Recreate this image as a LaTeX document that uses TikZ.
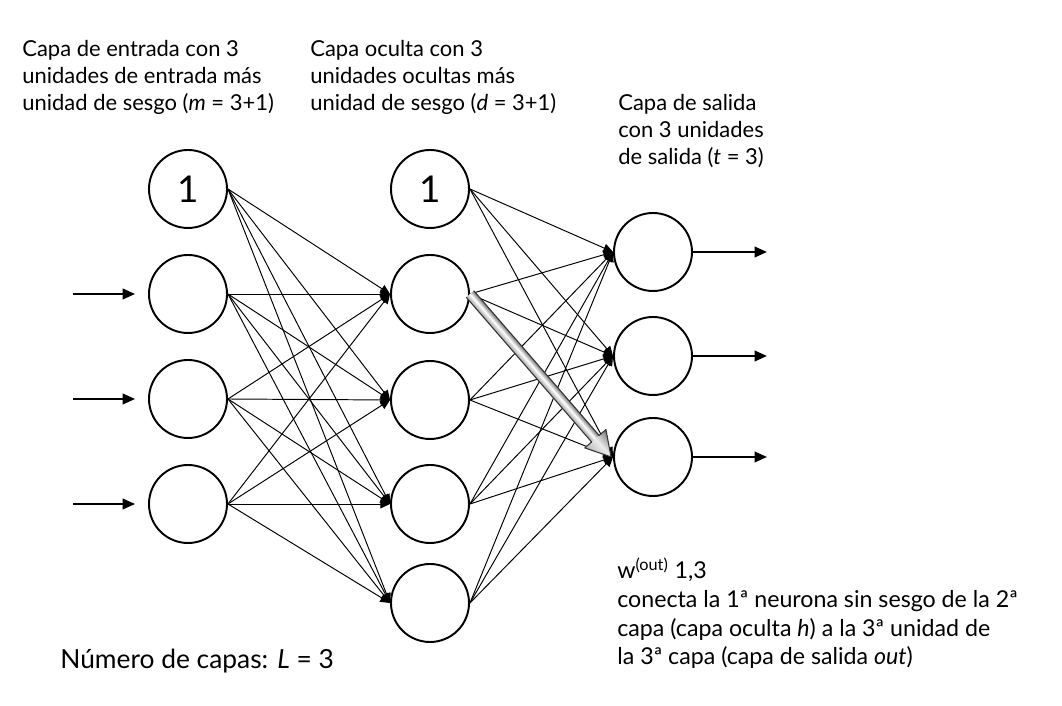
\documentclass[tikz,border=0pt]{standalone}
\usepackage{fontspec}
\setmainfont{Lato}
\usetikzlibrary{arrows.meta,calc}
\tikzstyle{neurona}=[circle, draw, line width=1.1pt, minimum size=1.56cm, inner sep=0pt, fill=white]
\tikzstyle{peso}=[line width=0.55pt, -{Triangle[length=5.5pt,width=5pt]}]
\tikzstyle{flecha}=[line width=1.1pt, -{Triangle[length=7pt,width=6pt]}]
\tikzstyle{texto}=[anchor=base west, inner sep=0pt, align=left, font=\fontsize{12.5}{15.6}\selectfont]
\tikzstyle{sesgo}=[font=\fontsize{21}{25}\selectfont]

\begin{document}
\begin{tikzpicture}
		\useasboundingbox (0,0) rectangle (21.24,14.12);
		
		% capa de entrada
		\node[neurona,sesgo] (ent0) at (3.76,10.34) {1};
		\node[neurona] (ent1) at (3.76,8.24) {};
		\node[neurona] (ent2) at (3.76,6.14) {};
		\node[neurona] (ent3) at (3.76,4.04) {};
		
		% capa oculta
		\node[neurona,sesgo] (ocu0) at (8.6,10.34) {1};
		\node[neurona] (ocu1) at (8.6,8.24) {};
		\node[neurona] (ocu2) at (8.6,6.12) {};
		\node[neurona] (ocu3) at (8.6,4.04) {};
		\node[neurona] (ocu4) at (8.6,2.06) {};
		
		% capa de salida
		\node[neurona] (sal1) at (13.06,9.08) {};
		\node[neurona] (sal2) at (13.06,7.0) {};
		\node[neurona] (sal3) at (13.06,4.98) {};
		
		\foreach \i in {0,...,3}
			\foreach \j in {1,...,4}
				\draw[peso] (ent\i.east) -- (ocu\j.west);
		\foreach \i in {0,...,4}
			\foreach \j in {1,2,3}
				\draw[peso] (ocu\i.east) -- (sal\j.west);
		
		\foreach \i in {1,2,3}{
			\draw[flecha] ([xshift=-1.5cm]ent\i.west) -- ([xshift=-0.26cm]ent\i.west);
			\draw[flecha] (sal\i.east) -- ([xshift=1.48cm]sal\i.east);
		}
		
		% peso destacado
		\begin{scope}[transform canvas={shift={(ocu1.east)},rotate=-49.1}]
			\shade[top color=gray!90!black, bottom color=gray!70, middle color=white] (0,-0.1) rectangle (3.85,0.1);
			\shade[top color=gray!90!black, bottom color=gray!60, middle color=gray!15] (3.83,0.28) -- (4.31,0) -- (3.83,-0.28) -- cycle;
			\draw[black!80, line width=0.6pt, line join=round] (0,0.1) -- (3.83,0.1) -- (3.83,0.28) -- (4.31,0) -- (3.83,-0.28) -- (3.83,-0.1) -- (0,-0.1);
		\end{scope}
		
		\node[texto] (txtent) at (0.44,11.9) {Capa de entrada con 3\\unidades de entrada más\\unidad de sesgo (\textit{m} = 3+1)};
		\node[texto] (txtocu) at (6.2,11.9) {Capa oculta con 3\\unidades ocultas más\\unidad de sesgo (\textit{d} = 3+1)};
		\node[texto] (txtsal) at (12.36,10.82) {Capa de salida\\con 3 unidades\\de salida (\textit{t} = 3)};
		\node[texto, font=\fontsize{13.2}{16.4}\selectfont] (txtpeso) at (12.34,0.82) {w\smash{\textsuperscript{(out)}} 1,3\\conecta la 1ª neurona sin sesgo de la 2ª\\capa (capa oculta \textit{h}) a la 3ª unidad de\\la 3ª capa (capa de salida \textit{out})};
		\node[texto, font=\fontsize{15}{18}\selectfont] (txtcapas) at (1.2,0.74) {Número de capas: \textit{L} = 3};
		\end{tikzpicture}
\end{document}
